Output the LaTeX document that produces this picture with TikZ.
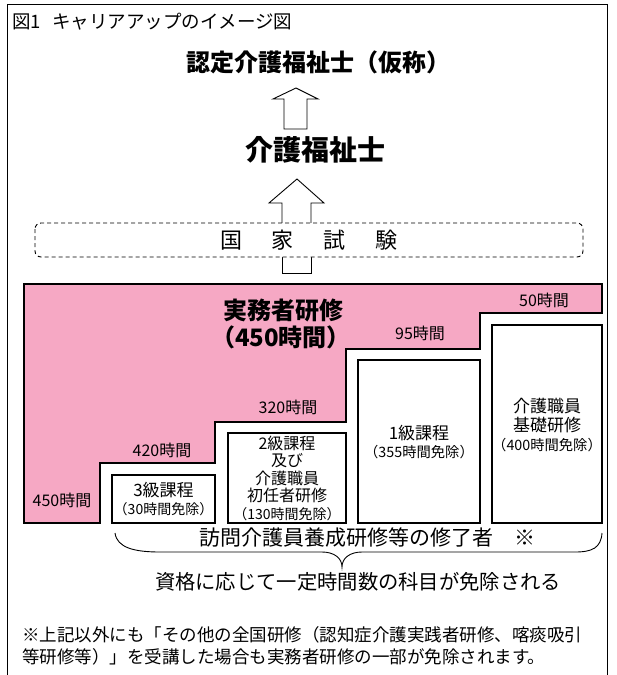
\documentclass[tikz,border=0pt]{standalone}
\usepackage{fontspec}
\setmainfont{Noto Sans CJK JP}
\definecolor{pinkfill}{RGB}{246,168,196}
\begin{document}
\begin{tikzpicture}[x=1pt,y=-1pt,
  txt/.style={inner sep=0pt, align=center},
  hrs/.style={txt, font=\fontsize{16}{18}\selectfont},
  boxtxt/.style={txt, font=\fontsize{17}{19}\selectfont},
  sub/.style={},
  thick box/.style={draw=black, line width=2.4pt, fill=white},
  hollow arrow/.style={draw=black, line width=0.9pt, fill=white, line join=miter},
  thin/.style={draw=black, line width=0.9pt}
]
\useasboundingbox (0,0) rectangle (617,675);
% outer frame
\draw[thin] (7,675) -- (7,4) -- (607,4) -- (607,675);
% title
\node[txt, anchor=west, font=\fontsize{18.5}{20}\selectfont] (title) at (12,22) {図1\hspace{0.6em}キャリアアップのイメージ図};
% headings
\node[txt, font=\bfseries\fontsize{24}{26}\selectfont] (h1) at (318,62) {認定介護福祉士（仮称）};
\node[txt, font=\bfseries\fontsize{28}{30}\selectfont] (h2) at (315,150) {介護福祉士};
% arrow 1
\path[hollow arrow] (284,129) -- (284,99) -- (273,99) -- (296,88) -- (318,99) -- (307,99) -- (307,129) -- cycle;
% arrow 2 shaft and head
\path[hollow arrow] (282,228) -- (282,203) -- (269,203) -- (297,179) -- (324,203) -- (311,203) -- (311,228);
% stub below exam box
\path[hollow arrow] (282,250) -- (282,273) -- (311,273) -- (311,250);
% exam box
\draw[thin, dash pattern=on 4pt off 3pt, rounded corners=6pt, fill=white] (35,223) rectangle (583,257);
\node[txt, font=\fontsize{22}{24}\selectfont] (exam) at (309,240) {国\hspace{30pt}家\hspace{30pt}試\hspace{30pt}験};
% pink staircase
\draw[line width=2.4pt, fill=pinkfill, line join=miter]
  (24,284) -- (602,284) -- (602,313) -- (480,313) -- (480,349) -- (346,349) -- (346,422)
  -- (215,422) -- (215,463) -- (100,463) -- (100,523) -- (24,523) -- cycle;
\node[txt, font=\bfseries\fontsize{24}{26}\selectfont] (jitsumu) at (283,310) {実務者研修};
\node[txt, font=\bfseries\fontsize{24}{26}\selectfont] (jh) at (281,337) {（450時間）};
\node[hrs] (h50) at (544,300) {50時間};
\node[hrs] (h95) at (420,333) {95時間};
\node[hrs] (h320) at (288,407) {320時間};
\node[hrs] (h420) at (162,450) {420時間};
\node[hrs] (h450) at (62,500) {450時間};
% white boxes
\draw[thick box] (112,475) rectangle (215,523);
\draw[thick box] (228,433) rectangle (346,523);
\draw[thick box] (358,360) rectangle (480,523);
\draw[thick box] (492,325) rectangle (602,523);
\node[boxtxt] (b3) at (163.5,499) {3級課程\\[-1pt]{\fontsize{14}{15}\selectfont（30時間免除）}};
\node[boxtxt, font=\fontsize{16}{17.5}\selectfont] (b2) at (287,478) {2級課程\\及び\\介護職員\\初任者研修\\{\fontsize{14}{15}\selectfont（130時間免除）}};
\node[boxtxt] (b1) at (419,442) {1級課程\\[-1pt]{\fontsize{14.3}{15}\selectfont（355時間免除）}};
\node[boxtxt] (bk) at (547,425) {介護職員\\基礎研修\\{\fontsize{14.3}{15}\selectfont（400時間免除）}};
% brace
\node[txt, font=\fontsize{21}{23}\selectfont] (grad) at (367,538) {訪問介護員養成研修等の修了者\hspace{1em}※};
\coordinate (brL) at (115,533);
\coordinate (brR) at (602,533);
\coordinate (brTip) at (342,567);
\draw[thin] (brL) .. controls (117,548) and (135,552) .. (160,552) -- (322,552)
  .. controls (334,552) and (342,558) .. (brTip)
  .. controls (342,558) and (350,552) .. (362,552) -- (575,552)
  .. controls (592,552) and (601,548) .. (brR);
\node[txt, font=\fontsize{20.3}{22}\selectfont] (exempt) at (358,582) {資格に応じて一定時間数の科目が免除される};
% footnote
\node[txt, anchor=west, align=left, font=\fontsize{17.5}{22}\selectfont] (note) at (22,646) {※上記以外にも「その他の全国研修（認知症介護実践者研修、喀痰吸引\\等研修等）」を受講した場合も実務者研修の一部が免除されます。};
\end{tikzpicture}
\end{document}
